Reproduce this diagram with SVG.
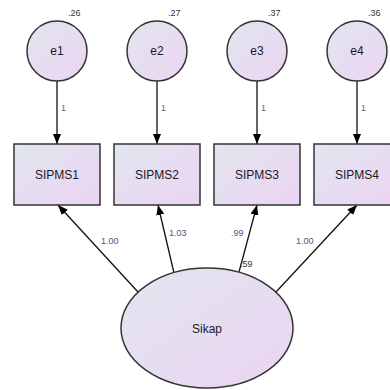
<svg xmlns="http://www.w3.org/2000/svg" width="390" height="390" viewBox="0 0 390 390">
<defs>
<linearGradient id="g" x1="0" y1="0" x2="1" y2="1">
<stop offset="0" stop-color="#e1e6ee"/>
<stop offset="1" stop-color="#ecd4f3"/>
</linearGradient>
<marker id="ah" viewBox="0 0 10 8" refX="10" refY="4" markerWidth="10" markerHeight="8" markerUnits="userSpaceOnUse" orient="auto">
<path d="M0,0 L10,4 L0,8 Z" fill="#000"/>
</marker>
<style>
.n{fill:url(#g);stroke:#333;stroke-width:1.5}
.t{font-family:"Liberation Sans",Arial,sans-serif;font-size:12px;fill:#1a1a2a;text-anchor:middle}
.v{font-family:"Liberation Sans",Arial,sans-serif;font-size:9px;fill:#333}
.c{font-family:"Liberation Sans",Arial,sans-serif;font-size:9px;fill:#4a5878}
.one{font-family:"Liberation Sans",Arial,sans-serif;font-size:9px;fill:#8a5a2a}
.e{stroke:#111;stroke-width:1.3;fill:none;marker-end:url(#ah)}
</style>
</defs>
<g id="connectors">
<line class="e" x1="57" y1="81" x2="57" y2="144"/>
<line class="e" x1="157" y1="81" x2="157" y2="144"/>
<line class="e" x1="257" y1="81" x2="257" y2="144"/>
<line class="e" x1="357" y1="81" x2="357" y2="144"/>
<line class="e" x1="138" y1="292" x2="58" y2="205"/>
<line class="e" x1="174" y1="273" x2="158" y2="205"/>
<line class="e" x1="239" y1="272" x2="257" y2="205"/>
<line class="e" x1="276" y1="292" x2="357" y2="205"/>
<text class="one" x="61" y="111">1</text>
<text class="one" x="161" y="111">1</text>
<text class="one" x="261" y="111">1</text>
<text class="one" x="361" y="111">1</text>
<text class="c" x="101" y="244">1.00</text>
<text class="c" x="169" y="236">1.03</text>
<text class="c" x="231" y="236">.99</text>
<text class="c" x="296" y="244">1.00</text>
</g>
<g id="e1"><circle class="n" cx="57" cy="51" r="30"/><text class="t" x="57" y="55">e1</text><text class="v" x="68" y="16">.26</text></g>
<g id="e2"><circle class="n" cx="157" cy="51" r="30"/><text class="t" x="157" y="55">e2</text><text class="v" x="168" y="16">.27</text></g>
<g id="e3"><circle class="n" cx="257" cy="51" r="30"/><text class="t" x="257" y="55">e3</text><text class="v" x="268" y="16">.37</text></g>
<g id="e4"><circle class="n" cx="357" cy="51" r="30"/><text class="t" x="357" y="55">e4</text><text class="v" x="368" y="16">.36</text></g>
<g id="SIPMS1"><rect class="n" x="14" y="144" width="86" height="61"/><text class="t" x="57" y="179">SIPMS1</text></g>
<g id="SIPMS2"><rect class="n" x="114" y="144" width="86" height="61"/><text class="t" x="157" y="179">SIPMS2</text></g>
<g id="SIPMS3"><rect class="n" x="214" y="144" width="86" height="61"/><text class="t" x="257" y="179">SIPMS3</text></g>
<g id="SIPMS4"><rect class="n" x="314" y="144" width="86" height="61"/><text class="t" x="357" y="179">SIPMS4</text></g>
<g id="Sikap"><ellipse class="n" cx="207" cy="328" rx="86" ry="60"/><text class="t" x="207" y="333">Sikap</text><text class="v" x="240" y="267">.59</text></g>
</svg>
